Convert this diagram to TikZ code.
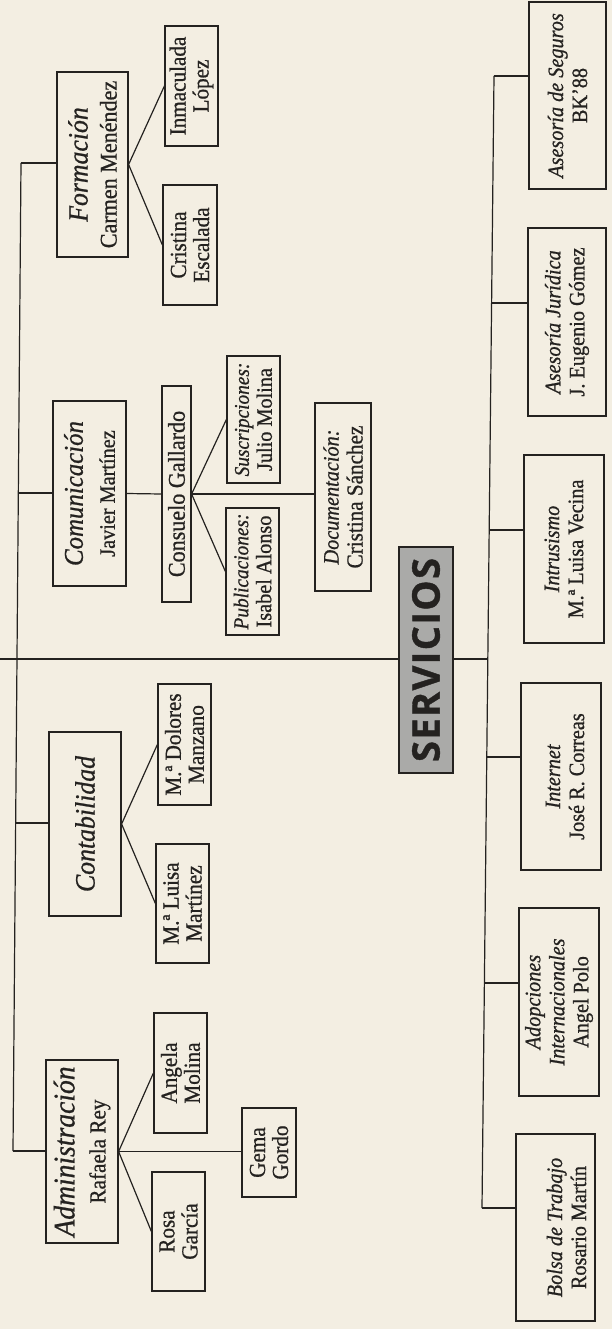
\documentclass[tikz,border=0pt]{standalone}
\usepackage{fontspec}
\setmainfont{Liberation Serif}[FakeStretch=0.92,FakeBold=0.8]
\newfontfamily\servfont{Open Sans}[FakeBold=1]
\usepackage{graphicx}
\definecolor{paper}{RGB}{243,238,226}
\definecolor{ink}{RGB}{36,34,32}
\definecolor{servgrey}{RGB}{170,170,168}
\newcommand\vtext[2]{\rotatebox{90}{\parbox{#1}{\centering #2}}}
\newcommand\F[2]{\fontsize{#1}{#2}\selectfont}
\tikzset{
  orgbox/.style={draw=ink, line width=1.2pt, fill=paper, text=ink, inner sep=0pt},
  conn/.style={draw=ink, line width=1.2pt},
}
\begin{document}
\begin{tikzpicture}[x=1pt,y=-1pt]
\fill[paper] (0,0) rectangle (612,1329);
\useasboundingbox (0,0) rectangle (612,1329);

% heads
\node[orgbox, minimum width=71pt, minimum height=185pt] (form) at (92.5,164.5)
  {\vtext{181pt}{\F{28}{29}\itshape Formación\\\upshape\F{24}{29}Carmen Menéndez}};
\node[orgbox, minimum width=73pt, minimum height=185pt] (com) at (89.5,493.5)
  {\vtext{181pt}{\F{27}{32}\itshape Comunicación\\\upshape\F{22}{32}Javier Martínez}};
\node[orgbox, minimum width=72pt, minimum height=184pt] (cont) at (85,824)
  {\vtext{180pt}{\F{28}{30}\itshape Contabilidad}};
\node[orgbox, minimum width=72pt, minimum height=183pt] (adm) at (82,1151.5)
  {\vtext{179pt}{\F{30}{31}\itshape Administración\\\upshape\F{23}{31}Rafaela Rey}};

% subordinates
\node[orgbox, minimum width=53pt, minimum height=120pt] (inm) at (191.5,86)
  {\vtext{116pt}{\F{23}{23}Inmaculada\\López}};
\node[orgbox, minimum width=54pt, minimum height=120pt] (cris) at (190,245)
  {\vtext{116pt}{\F{23}{23}Cristina\\Escalada}};
\node[orgbox, minimum width=29pt, minimum height=216pt] (cons) at (176.5,494)
  {\vtext{212pt}{\F{24}{24}Consuelo Gallardo}};
\node[orgbox, minimum width=53pt, minimum height=127pt] (sus) at (253.5,419.5)
  {\vtext{123pt}{\F{21}{23}\itshape Suscripciones:\\\upshape\F{22}{23}Julio Molina}};
\node[orgbox, minimum width=53pt, minimum height=127pt] (pub) at (252.5,571.5)
  {\vtext{123pt}{\F{21}{23}\itshape Publicaciones:\\\upshape\F{22}{23}Isabel Alonso}};
\node[orgbox, minimum width=56pt, minimum height=188pt] (doc) at (343,497)
  {\vtext{184pt}{\F{22}{24}\itshape Documentación:\\\upshape\F{23}{24}Cristina Sánchez}};
\node[orgbox, minimum width=53pt, minimum height=121pt] (dol) at (184.5,744.5)
  {\vtext{117pt}{\F{23}{23}M.ª Dolores\\Manzano}};
\node[orgbox, minimum width=53pt, minimum height=119pt] (lui) at (182.5,903.5)
  {\vtext{115pt}{\F{23}{23}M.ª Luisa\\Martínez}};
\node[orgbox, minimum width=53pt, minimum height=120pt] (ang) at (180.5,1073)
  {\vtext{116pt}{\F{23}{23}Angela\\Molina}};
\node[orgbox, minimum width=53pt, minimum height=119pt] (rosa) at (178.5,1231.5)
  {\vtext{115pt}{\F{23}{23}Rosa\\García}};
\node[orgbox, minimum width=54pt, minimum height=89pt] (gema) at (269,1152.5)
  {\vtext{85pt}{\F{23}{23}Gema\\Gordo}};

% central
\node[orgbox, fill=servgrey, minimum width=54pt, minimum height=226pt] (serv) at (426,660)
  {\rotatebox{90}{\servfont\bfseries\F{38}{38}\makebox[204pt]{S\hfill E\hfill R\hfill V\hfill I\hfill C\hfill I\hfill O\hfill S}}};

% services
\node[orgbox, minimum width=77pt, minimum height=187pt] (seg) at (567.5,95.5)
  {\vtext{183pt}{\F{22}{24}\itshape Asesoría de Seguros\\\upshape\F{22}{24}BK’88}};
\node[orgbox, minimum width=78pt, minimum height=188pt] (jur) at (567,322)
  {\vtext{184pt}{\F{22}{24}\itshape Asesoría Jurídica\\\upshape\F{22}{24}J. Eugenio Gómez}};
\node[orgbox, minimum width=80pt, minimum height=188pt] (intr) at (564,549)
  {\vtext{184pt}{\F{22}{24}\itshape Intrusismo\\\upshape\F{22}{24}M.ª Luisa Vecina}};
\node[orgbox, minimum width=80pt, minimum height=187pt] (inet) at (561,776.5)
  {\vtext{183pt}{\vspace*{8pt}\F{22}{24}\itshape Internet\\\upshape\F{22}{24}José R. Correas}};
\node[orgbox, minimum width=80pt, minimum height=188pt] (adop) at (559,1002)
  {\vtext{184pt}{\F{22}{24}\itshape Adopciones\\Internacionales\\\upshape\F{22}{24}Angel Polo}};
\node[orgbox, minimum width=79pt, minimum height=187pt] (bolsa) at (555.5,1227.5)
  {\vtext{183pt}{\vspace*{22pt}\F{22}{24}\itshape Bolsa de Trabajo\\\upshape\F{22}{24}Rosario Martín}};

% bus coordinates
\coordinate (m0) at (0,659);
\coordinate (lb1) at (21,163);
\coordinate (lb2) at (18.3,493);
\coordinate (lb3) at (15.6,823);
\coordinate (lb4) at (13,1151);
\coordinate (rb1) at (494,76);
\coordinate (rb2) at (491.6,303);
\coordinate (rb3) at (489.2,530);
\coordinate (rb0) at (487.8,659);
\coordinate (rb4) at (486.8,757);
\coordinate (rb5) at (484.4,983);
\coordinate (rb6) at (482,1208);

% left bus
\draw[conn] (lb1) -- (lb4);
\draw[conn] (lb1) -- (lb1 -| form.west);
\draw[conn] (lb2) -- (lb2 -| com.west);
\draw[conn] (lb3) -- (lb3 -| cont.west);
\draw[conn] (lb4) -- (lb4 -| adm.west);

% main line
\draw[conn] (m0) -- (m0 -| serv.west);
\draw[conn] (rb0 -| serv.east) -- (rb0);

% right bus
\draw[conn] (rb1) -- (rb6);
\draw[conn] (rb1) -- (rb1 -| seg.west);
\draw[conn] (rb2) -- (rb2 -| jur.west);
\draw[conn] (rb3) -- (rb3 -| intr.west);
\draw[conn] (rb4) -- (rb4 -| inet.west);
\draw[conn] (rb5) -- (rb5 -| adop.west);
\draw[conn] (rb6) -- (rb6 -| bolsa.west);

% sub connectors
\draw[conn] (form.east) -- (inm.west);
\draw[conn] (form.east) -- (cris.west);
\draw[conn] (com.east) -- (cons.west);
\draw[conn] (cons.east) -- (sus.west);
\draw[conn] (cons.east) -- (pub.west);
\draw[conn] (cons.east) -- (cons.east -| doc.west);
\draw[conn] (cont.east) -- (dol.west);
\draw[conn] (cont.east) -- (lui.west);
\draw[conn] (adm.east) -- (ang.west);
\draw[conn] (adm.east) -- (rosa.west);
\draw[conn] (adm.east) -- (adm.east -| gema.west);
\end{tikzpicture}
\end{document}
